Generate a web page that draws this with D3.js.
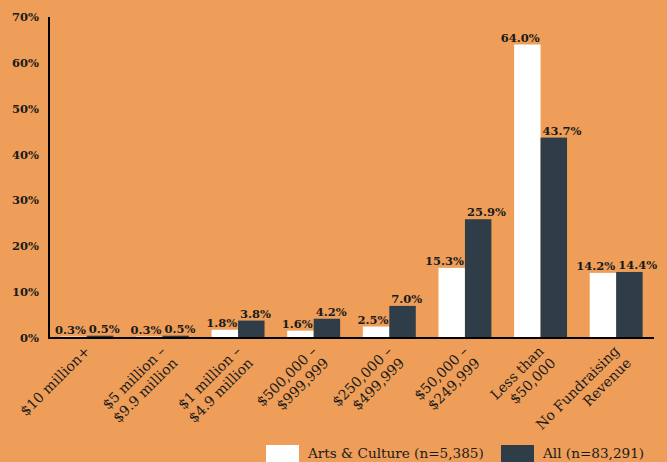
<!DOCTYPE html>
<html><head><meta charset="utf-8">
<script src="https://cdn.jsdelivr.net/npm/d3@7"></script>
<style>
html,body{margin:0;padding:0;background:#EE9E59;}
svg{display:block;}
text{font-family:"DejaVu Serif",serif;fill:#1a1a1a;}
</style></head><body>
<svg id="c" width="667" height="462"></svg>
<script>
const categories = [["$10 million+"],["$5 million –","$9.9 million"],["$1 million –","$4.9 million"],["$500,000 –","$999,999"],["$250,000 –","$499,999"],["$50,000 –","$249,999"],["Less than","$50,000"],["No Fundraising","Revenue"]];
const artsValues = [0.3,0.3,1.8,1.6,2.5,15.3,64.0,14.2];
const allValues = [0.5,0.5,3.8,4.2,7.0,25.9,43.7,14.4];
const seriesNames = ["Arts & Culture (n=5,385)","All (n=83,291)"];
const yTicks = [0,10,20,30,40,50,60,70];
const colors = ["#ffffff","#2F3D49"];

const svg = d3.select("#c");
const x0 = d3.scaleBand().domain(d3.range(categories.length)).range([49,654]).paddingInner(0.3).paddingOuter(0.15);
const x1 = d3.scaleBand().domain([0,1]).range([0,x0.bandwidth()]);
const y = d3.scaleLinear().domain([0,70]).range([338,17]);

// y tick labels
svg.append("g").selectAll("text").data(yTicks).join("text")
  .attr("x",39).attr("y",d=>y(d)).attr("dy","0.35em").attr("text-anchor","end")
  .style("font-weight","bold").style("font-size","11.5px").text(d=>d+"%");

const series = [artsValues, allValues];
series.forEach((vals,si)=>{
  const g = svg.append("g");
  g.selectAll("rect").data(vals).join("rect")
    .attr("x",(d,i)=>x0(i)+x1(si)).attr("width",x1.bandwidth())
    .attr("y",d=>y(d)).attr("height",d=>y(0)-y(d)).attr("fill",colors[si]);
  g.selectAll("text").data(vals).join("text")
    .attr("x",(d,i)=> si===0 ? x0(i)+x1(si)+x1.bandwidth()-1 : x0(i)+x1(si)+2)
    .attr("y",d=>y(d)-3)
    .attr("text-anchor", si===0 ? "end" : "start")
    .style("font-weight","bold").style("font-size","11.5px")
    .text(d=>d.toFixed(1)+"%");
});

// axes lines
svg.append("line").attr("x1",49).attr("x2",49).attr("y1",y(70)).attr("y2",y(0)+1).attr("stroke","#000").attr("stroke-width",2);
svg.append("line").attr("x1",48).attr("x2",654).attr("y1",y(0)).attr("y2",y(0)).attr("stroke","#000").attr("stroke-width",2);

// x labels
const lg = svg.append("g");
categories.forEach((lines,i)=>{
  const cx = x0(i)+x0.bandwidth()/2+4;
  const t = lg.append("text").attr("transform",`translate(${cx},${y(0)+14}) rotate(-45)`)
    .attr("text-anchor","end").style("font-size","14px");
  lines.forEach((ln,j)=>{
    t.append("tspan").attr("x",0).attr("dy",j===0?"0":"1.2em").text(ln);
  });
});

// legend
const legX = [266,501];
seriesNames.forEach((n,i)=>{
  svg.append("rect").attr("x",legX[i]).attr("y",445).attr("width",33).attr("height",20).attr("fill",colors[i]);
  svg.append("text").attr("x",legX[i]+42).attr("y",458).style("font-size","13.6px").text(n);
});
</script>
</body></html>
